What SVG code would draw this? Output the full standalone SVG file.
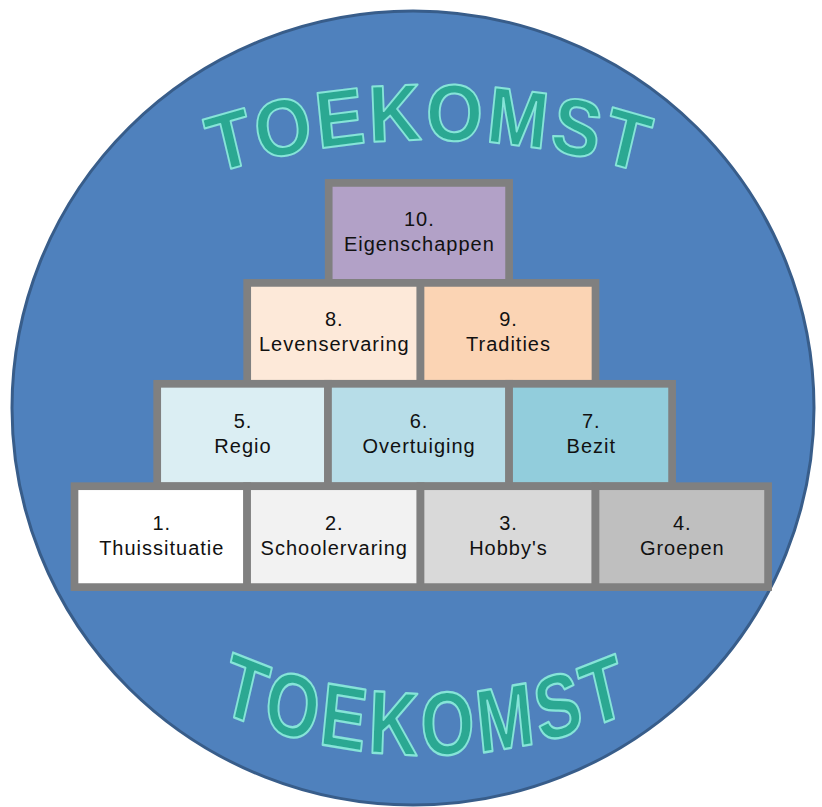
<svg xmlns="http://www.w3.org/2000/svg" width="822" height="807" viewBox="0 0 822 807">
<style>
.cell{stroke:#808080;stroke-width:7.7}
.lbl{font-family:"Liberation Sans",Arial,sans-serif;font-size:20px;letter-spacing:1px;fill:#111;text-anchor:middle}
.wa{font-family:"Liberation Sans",Arial,sans-serif;font-weight:bold;fill:#2ba892;stroke:#86e4d8;stroke-width:1.8;stroke-linejoin:round}
</style>
<defs>
<path id="arcTop" d="M 80,215.3 A 700 636.4 0 0 1 780,215.3"/>
<path id="arcBot" d="M 126,505.2 A 507 390 0 0 0 726,505.2"/>
</defs>
<rect width="822" height="807" fill="#ffffff"/>
<ellipse id="disc" cx="413" cy="408" rx="401" ry="397" fill="#4F81BD" stroke="#385D8A" stroke-width="3"/>

<g id="title-top" transform="translate(0,-3) scale(1,1.1)">
<text class="wa" font-size="73" letter-spacing="3"><textPath href="#arcTop" startOffset="50%" text-anchor="middle">TOEKOMST</textPath></text>
</g>
<g id="title-bottom" transform="scale(1,1.3)">
<text class="wa" font-size="69" letter-spacing="4"><textPath href="#arcBot" startOffset="50%" text-anchor="middle">TOEKOMST</textPath></text>
</g>

<g id="n10"><rect class="cell" x="328.7" y="182.9" width="180.4" height="100" fill="#B2A1C7"/><text class="lbl" x="419.4" y="225.9">10.</text><text class="lbl" x="419.4" y="250.9">Eigenschappen</text></g>

<g id="n8"><rect class="cell" x="247.2" y="282.9" width="173.3" height="100.9" fill="#FDE9D9"/><text class="lbl" x="334.3" y="326.4">8.</text><text class="lbl" x="334.3" y="351.4">Levenservaring</text></g>
<g id="n9"><rect class="cell" x="420.5" y="282.9" width="175" height="100.9" fill="#FBD4B4"/><text class="lbl" x="508.5" y="326.4">9.</text><text class="lbl" x="508.5" y="351.4">Tradities</text></g>

<g id="n5"><rect class="cell" x="157.2" y="383.8" width="170.8" height="102.4" fill="#DBEEF3"/><text class="lbl" x="243" y="427.8">5.</text><text class="lbl" x="243" y="452.8">Regio</text></g>
<g id="n6"><rect class="cell" x="328" y="383.8" width="181.1" height="102.4" fill="#B7DDE8"/><text class="lbl" x="419.1" y="427.8">6.</text><text class="lbl" x="419.1" y="452.8">Overtuiging</text></g>
<g id="n7"><rect class="cell" x="509.1" y="383.8" width="163" height="102.4" fill="#92CDDC"/><text class="lbl" x="591.3" y="427.8">7.</text><text class="lbl" x="591.3" y="452.8">Bezit</text></g>

<g id="n1"><rect class="cell" x="74.5" y="486.2" width="172.6" height="100.9" fill="#FFFFFF"/><text class="lbl" x="161.8" y="529.7">1.</text><text class="lbl" x="161.8" y="554.7">Thuissituatie</text></g>
<g id="n2"><rect class="cell" x="247.1" y="486.2" width="173.4" height="100.9" fill="#F2F2F2"/><text class="lbl" x="334.3" y="529.7">2.</text><text class="lbl" x="334.3" y="554.7">Schoolervaring</text></g>
<g id="n3"><rect class="cell" x="420.5" y="486.2" width="175" height="100.9" fill="#D9D9D9"/><text class="lbl" x="508.5" y="529.7">3.</text><text class="lbl" x="508.5" y="554.7">Hobby's</text></g>
<g id="n4"><rect class="cell" x="595.5" y="486.2" width="172.6" height="100.9" fill="#BFBFBF"/><text class="lbl" x="682.3" y="529.7">4.</text><text class="lbl" x="682.3" y="554.7">Groepen</text></g>

<g id="connectors"/>
</svg>
